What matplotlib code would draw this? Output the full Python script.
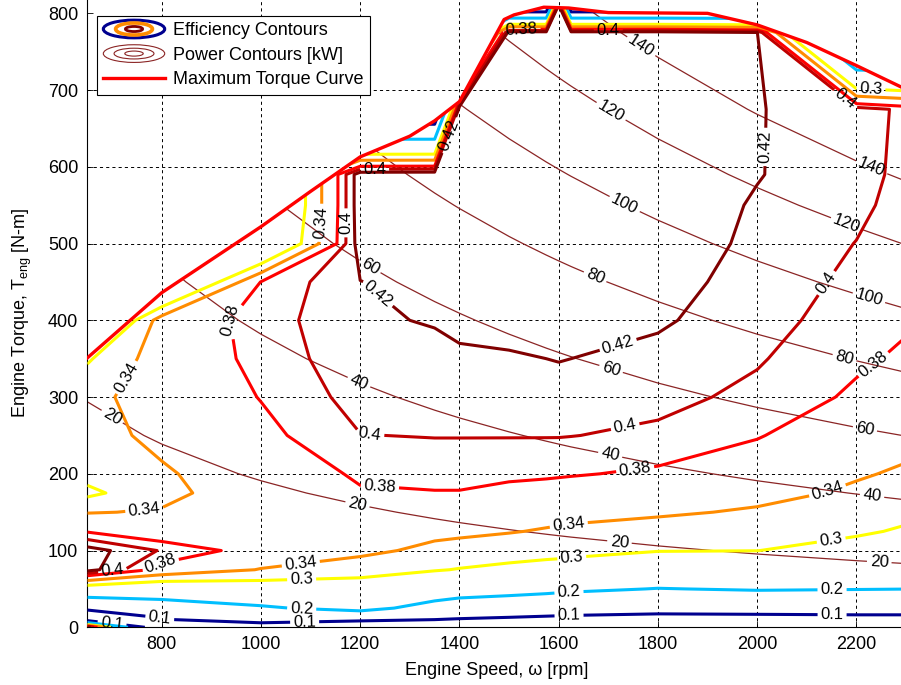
import numpy as np
import matplotlib
matplotlib.use("Agg")
import matplotlib.pyplot as plt
from matplotlib.patches import Ellipse, Polygon
from matplotlib.legend_handler import HandlerBase
from matplotlib.lines import Line2D

plt.rcParams["font.family"] = ["Liberation Sans", "DejaVu Sans"]
plt.rcParams["mathtext.fontset"] = "custom"
plt.rcParams["mathtext.rm"] = "Liberation Sans"
plt.rcParams["mathtext.it"] = "Liberation Sans:italic"

# ── map grid ────────────────────────────────────────────────────────
speeds = [650, 800, 1000, 1200, 1350, 1400, 1500, 1575, 1600, 1625, 1800,
          2000, 2200, 2300]
torques = [0, 10, 25, 50, 75, 100, 125, 150, 175, 200, 250, 300, 350,
           400, 450, 500, 550, 590, 675, 775, 810]

# efficiency columns, one per speed, values in torque order
eff_650 = [0.44, 0.05, 0.11, 0.27, 0.43, 0.43, 0.378, 0.338, 0.29, 0.315, 0.325,
           0.33, 0.295, 0.19, 0.19, 0.19, 0.19, 0.19, 0.19, 0.19, 0.19]
eff_800 = [0.0, 0.09, 0.155, 0.255, 0.37, 0.398, 0.36, 0.343, 0.33, 0.335, 0.35,
           0.357, 0.362, 0.36, 0.19, 0.19, 0.19, 0.19, 0.19, 0.19, 0.19]
eff_1000 = [0.0, 0.17, 0.19, 0.27, 0.338, 0.368, 0.358, 0.36, 0.362, 0.365, 0.373,
            0.381, 0.386, 0.389, 0.381, 0.21, 0.19, 0.19, 0.19, 0.19, 0.19]
eff_1200 = [0.0, 0.12, 0.225, 0.275, 0.318, 0.35, 0.36, 0.368, 0.378, 0.383, 0.3995,
            0.408, 0.4146, 0.418, 0.4195, 0.432, 0.435, 0.435, 0.0, 0.0, 0.0]
eff_1350 = [0.0, 0.10, 0.17, 0.25, 0.303, 0.33, 0.35, 0.364, 0.379, 0.386, 0.401,
            0.408, 0.416, 0.421, 0.43, 0.434, 0.436, 0.436, 0.0, 0.0, 0.0]
eff_1400 = [0.0, 0.095, 0.155, 0.24, 0.298, 0.325, 0.348, 0.362, 0.379, 0.386, 0.401,
            0.408, 0.416, 0.426, 0.432, 0.435, 0.436, 0.436, 0.435, 0.0, 0.0]
eff_1500 = [0.0, 0.088, 0.148, 0.228, 0.289, 0.32, 0.342, 0.357, 0.373, 0.385, 0.401,
            0.409, 0.418, 0.427, 0.432, 0.434, 0.435, 0.435, 0.435, 0.433, 0.0]
eff_1575 = [0.0, 0.082, 0.142, 0.219, 0.282, 0.316, 0.337, 0.353, 0.369, 0.384, 0.401,
            0.41, 0.42, 0.428, 0.432, 0.434, 0.435, 0.435, 0.435, 0.432, 0.0]
eff_1600 = [0.0, 0.08, 0.14, 0.215, 0.28, 0.315, 0.335, 0.352, 0.368, 0.383, 0.401,
            0.41, 0.421, 0.428, 0.432, 0.434, 0.435, 0.435, 0.435, 0.432, 0.432]
eff_1625 = [0.0, 0.078, 0.138, 0.212, 0.277, 0.313, 0.333, 0.351, 0.367, 0.382, 0.4005,
            0.409, 0.42, 0.427, 0.431, 0.433, 0.434, 0.435, 0.435, 0.432, 0.0]
eff_1800 = [0.0, 0.07, 0.13, 0.198, 0.255, 0.302, 0.325, 0.345, 0.36, 0.376, 0.396,
            0.406, 0.414, 0.423, 0.428, 0.431, 0.433, 0.434, 0.434, 0.432, 0.0]
eff_2000 = [0.0, 0.07, 0.135, 0.205, 0.258, 0.3005, 0.316, 0.336, 0.35, 0.362, 0.382,
            0.395, 0.402, 0.408, 0.412, 0.416, 0.418, 0.421, 0.421, 0.421, 0.0]
eff_2200 = [0.0, 0.075, 0.135, 0.202, 0.25, 0.283, 0.306, 0.322, 0.335, 0.343, 0.358,
            0.376, 0.384, 0.39, 0.395, 0.3995, 0.405, 0.408, 0.41, 0.0, 0.0]
eff_2300 = [0.0, 0.075, 0.135, 0.2005, 0.245, 0.275, 0.295, 0.31, 0.322, 0.336, 0.35,
            0.362, 0.376, 0.383, 0.388, 0.39, 0.392, 0.394, 0.395, 0.0, 0.0]

eff_levels = [0.1, 0.2, 0.3, 0.34, 0.38, 0.4, 0.42]
eff_colors = ["#00008f", "#00bfff", "#ffff00", "#ff8c00", "#ff0000", "#c00000", "#800000"]
power_levels = [20, 40, 60, 80, 100, 120, 140]

# maximum torque curve
max_trq_speed = [650, 800, 1000, 1100, 1200, 1300, 1350, 1400, 1490, 1510,
                 1570, 1620, 1700, 1900, 2000, 2100, 2200, 2300]
max_trq = [351, 436, 522, 568, 613, 640, 660, 685, 792, 798,
           808, 807, 801, 800, 785, 762, 732, 701]

# contour label spots (speed, torque)
eff_label_pos = [(766, 146), (712, 332), (911, 409), (1170, 527), (1122, 527),
                 (1226, 427), (1219, 248), (1239, 176), (1081, 79), (1082, 62),
                 (1082, 23), (1088, 7), (1621, 131), (1627, 85), (1621, 43),
                 (1621, 13), (1736, 255), (1755, 202), (1718, 372), (2014, 626),
                 (2145, 172), (2150, 110), (2151, 46), (2151, 13), (2166, 437),
                 (2246, 333), (802, 77), (700, 80), (797, 18), (700, 6),
                 (1229, 596), (1525, 780), (1700, 777), (1385, 640),
                 (2180, 690), (2230, 712)]
power_label_pos = [(696, 270), (1193, 156), (1722, 108), (2246, 84), (1193, 313),
                   (1702, 219), (2231, 168), (1216, 466), (1703, 331), (2216, 254),
                   (1669, 450), (2173, 344), (1727, 544), (2222, 422), (1699, 665),
                   (2176, 518), (1757, 748), (2226, 592)]


class RingHandler(HandlerBase):
    """Legend icon made of concentric ellipses, like a contour plot."""

    def __init__(self, rings):
        super().__init__()
        self.rings = rings

    def create_artists(self, legend, orig_handle, xdescent, ydescent,
                       width, height, fontsize, trans):
        cx = 0.5 * width - xdescent
        cy = 0.5 * height - ydescent
        out = []
        for wf, hf, col, lw in self.rings:
            out.append(Ellipse((cx, cy), width * wf, height * hf, fill=False,
                               edgecolor=col, linewidth=lw, transform=trans))
        return out


fig = plt.figure(figsize=(9.01, 6.85), dpi=100)
ax = fig.add_axes([87.3 / 901, 57.7 / 685, 818.7 / 901, 629.3 / 685])

S, T = np.meshgrid(speeds, torques)
eff = np.column_stack([eff_650, eff_800, eff_1000, eff_1200, eff_1350, eff_1400,
                       eff_1500, eff_1575, eff_1600, eff_1625, eff_1800, eff_2000,
                       eff_2200, eff_2300])
power = T * S * np.pi / 30.0 / 1000.0

ax.set_xlim(650, 2300)
ax.set_ylim(0, 820)
ax.set_xticks(range(800, 2201, 200))
ax.set_yticks(range(0, 801, 100))
grid_kw = dict(color="black", lw=0.7, ls=(0, (3.2, 3.2)), zorder=0.5)
for xv in range(800, 2201, 200):
    ax.axvline(xv, **grid_kw)
for yv in range(100, 701, 100):
    ax.axhline(yv, **grid_kw)
ax.tick_params(direction="in", length=4, width=0.6, labelsize=13, pad=6.5)
for side in ("top", "right"):
    ax.spines[side].set_visible(False)

cs_p = ax.contour(S, T, power, levels=power_levels, colors="#8b2525",
                  linewidths=0.9, zorder=2)
cs_e = ax.contour(S, T, eff, levels=eff_levels, colors=eff_colors,
                  linewidths=2.2, zorder=3)

# only the region under the full-load curve is shown
clip = Polygon(np.column_stack([max_trq_speed + [2300, 650],
                                max_trq + [-50, -50]]),
               closed=True, facecolor="none", edgecolor="none",
               transform=ax.transData)
ax.add_patch(clip)
cs_e.set_clip_path(clip)
cs_p.set_clip_path(clip)

ax.clabel(cs_e, fmt="%g", fontsize=12, colors="k", inline=True,
          inline_spacing=3, manual=eff_label_pos)
ax.clabel(cs_p, fmt="%d", fontsize=12, colors="k", inline=True,
          inline_spacing=3, manual=power_label_pos)

ax.plot(max_trq_speed, max_trq, color="red", lw=2.4, zorder=5)

ax.set_xlabel("Engine Speed, ω [rpm]", fontsize=13, labelpad=6)
ax.set_ylabel(r"Engine Torque, T$_{\mathrm{eng}}$ [N-m]", fontsize=13, labelpad=10)

eff_proxy = Line2D([], [])
pow_proxy = Line2D([], [])
curve_proxy = Line2D([], [], color="red", lw=2.4)
handler_map = {
    eff_proxy: RingHandler([(1.0, 1.4, "#00008f", 2.2),
                            (0.6, 0.95, "#ff8c00", 2.6),
                            (0.28, 0.4, "#800000", 2.0)]),
    pow_proxy: RingHandler([(1.0, 1.4, "#8b2525", 0.8),
                            (0.65, 0.85, "#8b2525", 0.8),
                            (0.3, 0.4, "#8b2525", 0.8)]),
}
leg = ax.legend([eff_proxy, pow_proxy, curve_proxy],
                ["Efficiency Contours", "Power Contours [kW]", "Maximum Torque Curve"],
                loc="upper left", bbox_to_anchor=(97 / 901, 1 - 16 / 685),
                bbox_transform=fig.transFigure, borderaxespad=0, fontsize=13,
                handlelength=3.4, handletextpad=0.45, borderpad=0.35,
                labelspacing=0.42, fancybox=False, framealpha=1,
                edgecolor="black", handler_map=handler_map)
leg.get_frame().set_linewidth(0.8)
leg.set_zorder(10)

fig.savefig("out.png", dpi=100)
